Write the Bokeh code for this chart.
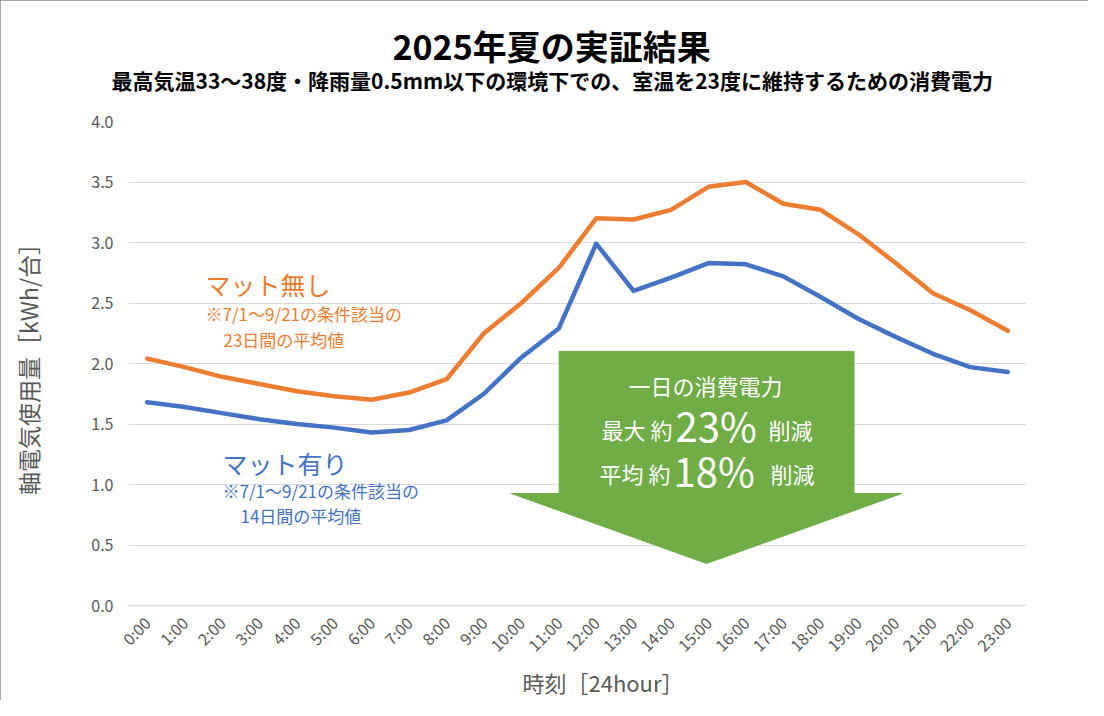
import math
from bokeh.plotting import figure
from bokeh.models import Label, FactorRange, Range1d, FixedTicker, NumeralTickFormatter, ColumnDataSource, Title
from bokeh.embed import file_html
from bokeh.resources import INLINE

# ---- data ----
hours = ["0:00", "1:00", "2:00", "3:00", "4:00", "5:00", "6:00", "7:00", "8:00", "9:00",
         "10:00", "11:00", "12:00", "13:00", "14:00", "15:00", "16:00", "17:00", "18:00",
         "19:00", "20:00", "21:00", "22:00", "23:00"]
no_mat = [2.04, 1.97, 1.89, 1.83, 1.77, 1.73, 1.70, 1.76, 1.87, 2.25, 2.50, 2.79,
          3.20, 3.19, 3.27, 3.46, 3.50, 3.32, 3.27, 3.07, 2.83, 2.58, 2.44, 2.27]
with_mat = [1.68, 1.64, 1.59, 1.54, 1.50, 1.47, 1.43, 1.45, 1.53, 1.75, 2.05, 2.29,
            2.99, 2.60, 2.71, 2.83, 2.82, 2.72, 2.55, 2.37, 2.22, 2.08, 1.97, 1.93]
y_ticks = [0.0, 0.5, 1.0, 1.5, 2.0, 2.5, 3.0, 3.5, 4.0]

title_text = "2025年夏の実証結果"
subtitle_text = "最高気温33～38度・降雨量0.5mm以下の環境下での、室温を23度に維持するための消費電力"
y_label_text = "軸電気使用量［kWh/台］"
x_label_text = "時刻［24hour］"

ORANGE = "#ED7D31"
BLUE = "#4472C4"
GREEN = "#70AD47"
GRAY = "#595959"
JP = "Noto Sans CJK JP"

W, H = 1088, 700
FL, FT, FR, FB = 128, 121, 1026, 605   # frame edges in page pixels

p = figure(width=W, height=H, output_backend="svg", toolbar_location=None,
           x_range=FactorRange(factors=hours), y_range=Range1d(0, 4),
           min_border_left=FL, min_border_right=W - FR, min_border_top=FT, min_border_bottom=H - FB)
p.styles = {"outline": "1px solid #8c8c8c", "outline-offset": "-1px"}
p.outline_line_color = None
p.background_fill_color = "white"
p.border_fill_color = "white"

# titles above the frame (subtitle first = nearest the frame)
p.add_layout(Title(text=subtitle_text, align="left", offset=-17, standoff=54, vertical_align="bottom",
                   text_font=JP, text_font_size="21px", text_font_style="bold",
                   text_color="black"), "above")
p.add_layout(Title(text=title_text, align="left", offset=264, standoff=-68, vertical_align="bottom",
                   text_font=JP, text_font_size="34px", text_font_style="bold",
                   text_color="black"), "above")

# axes
p.yaxis.ticker = FixedTicker(ticks=y_ticks)
p.yaxis.formatter = NumeralTickFormatter(format="0.0")
p.yaxis.axis_line_color = None
p.yaxis.major_tick_line_color = None
p.yaxis.minor_tick_line_color = None
p.yaxis.major_label_text_color = GRAY
p.yaxis.major_label_text_font = JP
p.yaxis.major_label_text_font_size = "16px"
p.yaxis.major_label_standoff = 9
p.yaxis.axis_label = y_label_text
p.yaxis.axis_label_text_font = JP
p.yaxis.axis_label_text_font_size = "23px"
p.yaxis.axis_label_text_font_style = "normal"
p.yaxis.axis_label_text_color = GRAY
p.yaxis.axis_label_standoff = 43

p.xaxis.axis_line_color = "#D9D9D9"
p.xaxis.axis_line_width = 1.5
p.xaxis.major_tick_line_color = None
p.xaxis.minor_tick_line_color = None
p.xaxis.major_label_orientation = math.pi / 4
p.xaxis.major_label_text_color = GRAY
p.xaxis.major_label_text_font = JP
p.xaxis.major_label_text_font_size = "16px"
p.xaxis.major_label_standoff = 8

# x axis title below the tick labels
p.add_layout(Title(text=x_label_text, align="left", offset=394, standoff=-3, vertical_align="top",
                   text_font=JP, text_font_size="22px", text_font_style="normal",
                   text_color=GRAY), "below")

p.xgrid.grid_line_color = None
p.ygrid.grid_line_color = "#D9D9D9"
p.ygrid.grid_line_width = 1

src = ColumnDataSource(dict(h=hours, a=no_mat, b=with_mat))
p.line("h", "a", source=src, line_color=ORANGE, line_width=4.5, line_join="round", line_cap="round")
p.line("h", "b", source=src, line_color=BLUE, line_width=4.5, line_join="round", line_cap="round")

# green down arrow annotation (synthetic categorical coords)
cx, half_body, half_head = 15.45, 3.94, 5.22
top, neck, tip = 2.10, 0.926, 0.347
ax = [cx - half_body, cx + half_body, cx + half_body, cx + half_head, cx, cx - half_head, cx - half_body]
ay = [top, top, neck, neck, tip, neck, neck]
p.patch(ax, ay, fill_color=GREEN, line_color=GREEN, line_width=1)

# text helpers: positions in page pixels, converted relative to the frame
def lab(text, X, Y, size, color, align="left", bold=False):
    p.add_layout(Label(x=X - FL, y=FB - Y, x_units="screen", y_units="screen", text=text,
                       text_font=JP, text_font_size=f"{size}px", text_color=color,
                       text_align=align, text_baseline="middle",
                       text_font_style="bold" if bold else "normal"))

lab("マット無し", 205, 283, 25, ORANGE)
lab("※7/1～9/21の条件該当の", 205, 313, 17, ORANGE)
lab("23日間の平均値", 223, 339, 17, ORANGE)
lab("マット有り", 222, 462, 25, BLUE)
lab("※7/1～9/21の条件該当の", 222, 490, 17, BLUE)
lab("14日間の平均値", 240, 515, 17, BLUE)

lab("一日の消費電力", 705, 384, 22, "white", "center")
lab("最大 約", 672, 428, 22, "white", "right")
lab("23%", 675, 424, 40, "white")
lab("削減", 768, 428, 22, "white")
lab("平均 約", 670, 472, 22, "white", "right")
lab("18%", 673, 469, 40, "white")
lab("削減", 770, 472, 22, "white")

open("out.html", "w").write(file_html(p, INLINE))
